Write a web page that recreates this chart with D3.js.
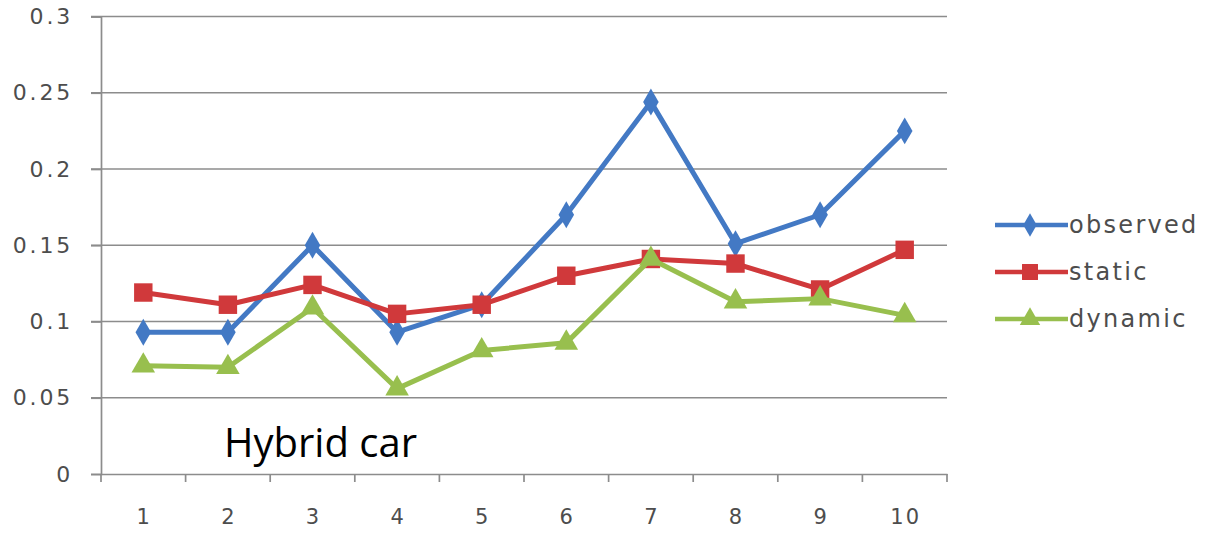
<!DOCTYPE html>
<html>
<head>
<meta charset="utf-8">
<script src="https://cdn.jsdelivr.net/npm/d3@7"></script>
<style>
  html, body { margin: 0; padding: 0; background: #fff; }
  svg { display: block; }
</style>
</head>
<body>
<svg id="chart" width="1212" height="533"></svg>
<script>
// Data
const categories = ["1", "2", "3", "4", "5", "6", "7", "8", "9", "10"];
const observed = [0.093, 0.093, 0.150, 0.093, 0.111, 0.170, 0.244, 0.151, 0.170, 0.225];
const staticVals = [0.119, 0.111, 0.124, 0.105, 0.111, 0.130, 0.141, 0.138, 0.121, 0.147];
const dynamicVals = [0.071, 0.070, 0.109, 0.056, 0.081, 0.086, 0.141, 0.113, 0.115, 0.104];
const yTicks = [0, 0.05, 0.1, 0.15, 0.2, 0.25, 0.3];
const yTickLabels = ["0", "0.05", "0.1", "0.15", "0.2", "0.25", "0.3"];
const seriesNames = ["observed", "static", "dynamic"];
const seriesColors = ["#4379c4", "#d0393b", "#98bf4e"];
const seriesMarkers = [d3.symbolDiamond, d3.symbolSquare, d3.symbolTriangle];
const seriesValues = [observed, staticVals, dynamicVals];
const annotation = "Hybrid car";

const svg = d3.select("#chart");
const plotLeft = 101, plotRight = 947, plotTop = 16.5, plotBottom = 474;

const x = d3.scaleBand().domain(categories).range([plotLeft, plotRight]);
const y = d3.scaleLinear().domain([0, 0.3]).range([plotBottom, plotTop]);

const gridColor = "#8c8c8c";
const labelFont = "DejaVu Sans, Verdana, sans-serif";
const labelColor = "#4d4d4d";

// Horizontal gridlines
svg.append("g")
  .selectAll("line")
  .data(yTicks.filter(t => t > 0))
  .join("line")
  .attr("x1", plotLeft - 10).attr("x2", plotRight)
  .attr("y1", d => y(d)).attr("y2", d => y(d))
  .attr("stroke", gridColor).attr("stroke-width", 1.7);

// Y axis
const yAxis = svg.append("g")
  .attr("transform", `translate(${plotLeft},0)`)
  .call(d3.axisLeft(y).tickValues(yTicks)
    .tickFormat((d, i) => yTickLabels[i]).tickSize(10).tickPadding(18));
yAxis.select(".domain").attr("stroke", gridColor).attr("stroke-width", 1.7);
yAxis.selectAll(".tick line").attr("stroke", gridColor).attr("stroke-width", 1.7);
yAxis.selectAll("text")
  .attr("font-family", labelFont)
  .attr("font-size", 22)
  .attr("letter-spacing", 2.8)
  .attr("fill", labelColor);

// X axis
const xAxis = svg.append("g")
  .attr("transform", `translate(0,${plotBottom})`)
  .call(d3.axisBottom(x).tickSize(0).tickPadding(35));
xAxis.select(".domain").attr("stroke", gridColor).attr("stroke-width", 1.7);
xAxis.selectAll("text")
  .attr("font-family", labelFont)
  .attr("font-size", 21)
  .attr("letter-spacing", 2)
  .attr("dx", 1)
  .attr("fill", labelColor);

// Tick marks on category boundaries
const bounds = categories.map(c => x(c)).concat([plotRight]);
svg.append("g")
  .selectAll("line")
  .data(bounds)
  .join("line")
  .attr("x1", d => d).attr("x2", d => d)
  .attr("y1", plotBottom).attr("y2", plotBottom + 8)
  .attr("stroke", gridColor).attr("stroke-width", 1.7);

const cx = c => x(c) + x.bandwidth() / 2;

// Series lines and markers
const line = d3.line().x((d, i) => cx(categories[i])).y(d => y(d));
const markerSizes = [210, 340, 240];

seriesValues.forEach((vals, s) => {
  const g = svg.append("g");
  g.append("path")
    .datum(vals)
    .attr("d", line)
    .attr("fill", "none")
    .attr("stroke", seriesColors[s])
    .attr("stroke-width", 5)
    .attr("stroke-linejoin", "round");
  g.selectAll("path.pt")
    .data(vals)
    .join("path")
    .attr("class", "pt")
    .attr("transform", (d, i) => `translate(${cx(categories[i])},${y(d)})`)
    .attr("d", d3.symbol().type(seriesMarkers[s]).size(markerSizes[s]))
    .attr("fill", seriesColors[s]);
});

// Legend
const legendY = [225, 272, 319];
const legend = svg.append("g");
seriesNames.forEach((name, s) => {
  const ly = legendY[s];
  legend.append("line")
    .attr("x1", 995).attr("x2", 1068)
    .attr("y1", ly).attr("y2", ly)
    .attr("stroke", seriesColors[s]).attr("stroke-width", 4.5);
  legend.append("path")
    .attr("transform", `translate(1030,${ly})`)
    .attr("d", d3.symbol().type(seriesMarkers[s]).size(markerSizes[s] * 0.75))
    .attr("fill", seriesColors[s]);
  legend.append("text")
    .attr("x", 1069).attr("y", ly)
    .attr("dy", "0.35em")
    .attr("font-family", labelFont)
    .attr("font-size", 24)
    .attr("letter-spacing", 2.3)
    .attr("fill", labelColor)
    .text(name);
});

// Annotation
svg.append("text")
  .attr("x", 224).attr("y", 457)
  .attr("font-family", "Open Sans, Noto Sans, sans-serif")
  .attr("font-size", 40)
  .attr("fill", "#000")
  .text(annotation);
</script>
</body>
</html>
